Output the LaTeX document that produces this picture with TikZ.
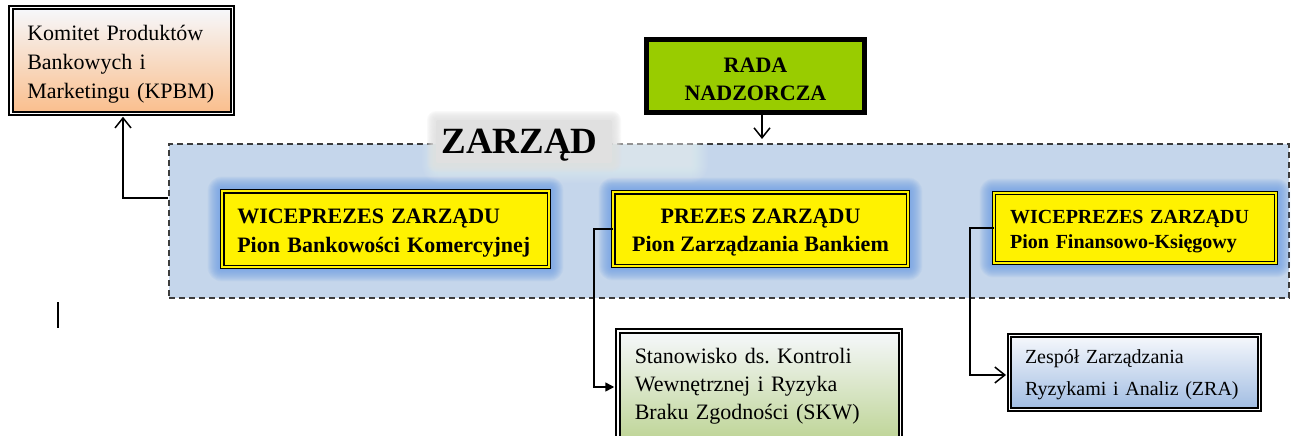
\documentclass[tikz,border=0pt]{standalone}
\usepackage{fontspec}
\setmainfont{Liberation Serif}
\usetikzlibrary{arrows.meta,calc}
\pgfdeclarelayer{bg}
\pgfdeclarelayer{glow}
\pgfsetlayers{bg,glow,main}
\frenchspacing

\definecolor{boardblue}{RGB}{197,214,235}
\definecolor{glowblue}{RGB}{105,155,228}
\definecolor{dashgray}{RGB}{60,60,60}
\definecolor{radagreen}{RGB}{153,204,0}
\definecolor{peach}{RGB}{250,190,140}
\definecolor{paleblue}{RGB}{246,248,252}
\definecolor{sage}{RGB}{188,211,146}
\definecolor{steel}{RGB}{160,188,226}
\definecolor{haze}{RGB}{224,224,224}

% invisible struts that nudge a text block up or down inside its box
\newcommand{\toplift}[1]{\rule{0pt}{#1}}
\newcommand{\bottomlift}[1]{\rule[-#1]{0pt}{0pt}}

\begin{document}
\begin{tikzpicture}[x=1pt,y=-1pt,
  conn/.style={line width=1.5pt, draw=black},
  openhead/.style={-{Straight Barb[length=10pt,width=16pt]}},
  filledhead/.style={-{Triangle[length=9pt,width=9pt]}},
  radabox/.style={draw=black, line width=5pt, fill=radagreen, align=center,
    minimum width=218pt, minimum height=73pt, inner sep=0pt,
    font=\fontsize{22pt}{28pt}\selectfont\bfseries},
  ybox/.style={draw=black, line width=1.3pt, double=yellow, double distance=1.8pt,
    fill=yellow, inner ysep=0pt},
  unitbox/.style={draw=black, line width=2pt, double=white, double distance=1.5pt,
    align=left, inner ysep=0pt}
]
\useasboundingbox (0,0) rectangle (1296,436);
\clip (0,0) rectangle (1296,436);

% management board area
\begin{pgfonlayer}{bg}
  \node[draw=dashgray, dash pattern=on 6pt off 4pt, line width=1.6pt, fill=boardblue,
        minimum width=1120pt, minimum height=154pt, inner sep=0pt] (board) at (729,221) {};
\end{pgfonlayer}

% supervisory board
\node[radabox] (rada) at (755.5,76) {\toplift{21.4pt}RADA\\NADZORCZA};

% committee
\node[unitbox, top color=paleblue, bottom color=peach, minimum width=221.5pt,
      minimum height=105.5pt, inner xsep=16.5pt, text width=188.5pt,
      font=\fontsize{22pt}{29pt}\selectfont] (kpbm) at (121.5,60.5)
  {\toplift{23.4pt}Komitet Produktów\\Bankowych i\\Marketingu (KPBM)};

% board title
\node[font=\fontsize{37pt}{40pt}\selectfont\bfseries, inner sep=0pt] (zlabel) at (519.5,145) {ZARZĄD};

% board members
\node[ybox, minimum width=326.4pt, minimum height=75.4pt, inner xsep=15pt,
      text width=296.4pt, align=left, font=\fontsize{22pt}{29pt}\selectfont\bfseries]
  (wbk) at (385.5,229) {\toplift{23.4pt}WICEPREZES ZARZĄDU\\Pion Bankowości Komercyjnej};
\node[ybox, minimum width=294.4pt, minimum height=73.4pt, align=center,
      font=\fontsize{22pt}{28pt}\selectfont\bfseries]
  (pzb) at (760.5,229) {\toplift{21.4pt}PREZES ZARZĄDU\\Pion Zarządzania Bankiem};
\node[ybox, minimum width=281.6pt, minimum height=69.6pt, inner xsep=16pt,
      text width=249.6pt, align=left, font=\fontsize{20pt}{25pt}\selectfont\bfseries]
  (wfk) at (1135,228) {\toplift{20pt}WICEPREZES ZARZĄDU\\Pion Finansowo-Księgowy};

% units below the board
\node[unitbox, top color=paleblue, bottom color=sage, minimum width=282.5pt,
      minimum height=114.5pt, inner xsep=17pt, text width=248.5pt,
      font=\fontsize{22pt}{28pt}\selectfont] (skw) at (759,388)
  {Stanowisko ds. Kontroli\\Wewnętrznej i Ryzyka\\Braku Zgodności (SKW)\bottomlift{8.8pt}};
\node[unitbox, top color=paleblue, bottom color=steel, minimum width=250pt,
      minimum height=74pt, inner xsep=15.5pt, text width=219pt,
      font=\fontsize{20pt}{32pt}\selectfont] (zra) at (1134.5,372.5)
  {\toplift{18pt}Zespół Zarządzania\\Ryzykami i Analiz (ZRA)};

% soft glows behind the member boxes and the title
\begin{pgfonlayer}{glow}
  \foreach \n in {wbk,pzb,wfk}{
    \foreach \r in {1,...,14}{
      \fill[glowblue, opacity=0.09, rounded corners=\r pt]
        ($(\n.south west)+(-\r pt,-\r pt)$) rectangle ($(\n.north east)+(\r pt,\r pt)$);
    }
  }
  \foreach \r in {1,...,18}{
    \fill[white, opacity=0.035, rounded corners=\r pt]
      ($(440,140)+(-\r pt,\r pt)$) rectangle ($(690,165)+(\r pt,-\r pt)$);
  }
  \foreach \r in {1,...,9}{
    \fill[haze, opacity=0.18, rounded corners=\r pt]
      ($(436,120)+(-\r pt,\r pt)$) rectangle ($(612,163)+(\r pt,-\r pt)$);
  }
  \fill[haze, rounded corners=2pt] (436,120) rectangle (612,163);
\end{pgfonlayer}

% connectors
\coordinate (radain) at (762,139);
\draw[conn, openhead] (rada.south -| radain) -- (radain);

\coordinate (kbend) at (123,198);
\draw[conn, openhead, shorten >=2.5pt] (board.west |- kbend) -- (kbend) -- (kbend |- kpbm.south);

\coordinate (sbend) at (594,387);
\draw[conn, filledhead, shorten >=2.5pt] (pzb.west) -| (sbend) -- (sbend -| skw.west);

\coordinate (zbend) at (970,375);
\draw[conn, openhead, shorten >=2.5pt] (wfk.west) -| (zbend) -- (zbend -| zra.west);

% text cursor mark
\draw[line width=1.2pt] (58,302) -- (58,328);
\end{tikzpicture}
\end{document}
